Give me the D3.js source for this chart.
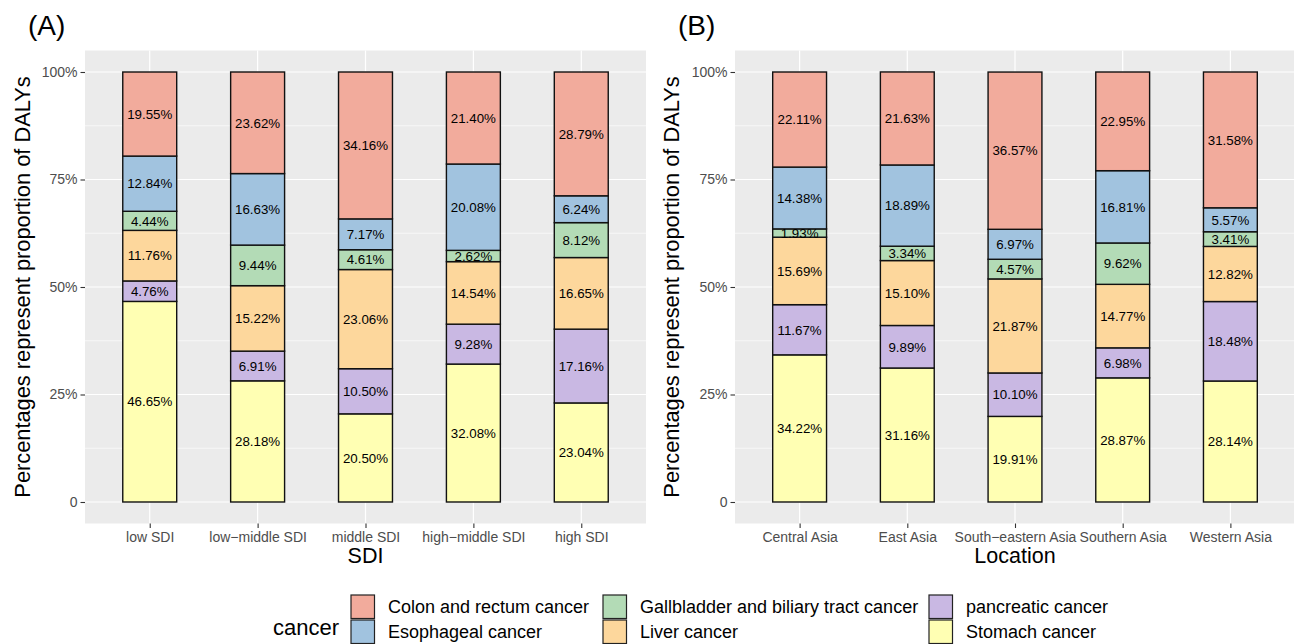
<!DOCTYPE html>
<html>
<head>
<meta charset="utf-8">
<script src="https://cdn.jsdelivr.net/npm/d3@7"></script>
<style>
  html, body { margin: 0; padding: 0; background: #ffffff; }
  svg { display: block; font-family: "Liberation Sans", Arial, sans-serif; }
</style>
</head>
<body>
<svg id="chart" width="1294" height="644"></svg>
<script>
// Cancer types, stacked from the bottom of each bar upwards
const cancers = ["Stomach cancer", "pancreatic cancer", "Liver cancer",
  "Gallbladder and biliary tract cancer", "Esophageal cancer", "Colon and rectum cancer"];
const cancerColors = ["#FFFFB3", "#C9B8E3", "#FDD79C", "#B3DBB6", "#A1C3DF", "#F2AB9C"];

// Legend order (column-wise, two rows)
const legendOrder = ["Colon and rectum cancer", "Esophageal cancer",
  "Gallbladder and biliary tract cancer", "Liver cancer",
  "pancreatic cancer", "Stomach cancer"];

// Panel A: SDI groups
const sdiGroups = ["low SDI", "low\u2212middle SDI", "middle SDI", "high\u2212middle SDI", "high SDI"];
const sdiStomach    = [46.65, 28.18, 20.50, 32.08, 23.04];
const sdiPancreatic = [4.76, 6.91, 10.50, 9.28, 17.16];
const sdiLiver      = [11.76, 15.22, 23.06, 14.54, 16.65];
const sdiGallbladder= [4.44, 9.44, 4.61, 2.62, 8.12];
const sdiEsophageal = [12.84, 16.63, 7.17, 20.08, 6.24];
const sdiColon      = [19.55, 23.62, 34.16, 21.40, 28.79];

// Panel B: Asian regions
const locations = ["Central Asia", "East Asia", "South\u2212eastern Asia", "Southern Asia", "Western Asia"];
const locStomach    = [34.22, 31.16, 19.91, 28.87, 28.14];
const locPancreatic = [11.67, 9.89, 10.10, 6.98, 18.48];
const locLiver      = [15.69, 15.10, 21.87, 14.77, 12.82];
const locGallbladder= [1.93, 3.34, 4.57, 9.62, 3.41];
const locEsophageal = [14.38, 18.89, 6.97, 16.81, 5.57];
const locColon      = [22.11, 21.63, 36.57, 22.95, 31.58];

const yTicks = [0, 0.25, 0.5, 0.75, 1];
const yTickLabels = ["0", "25%", "50%", "75%", "100%"];

const svg = d3.select("#chart");
const color = d3.scaleOrdinal().domain(cancers).range(cancerColors);

function buildRows(groups, series) {
  return groups.map((g, i) => {
    const row = { group: g };
    cancers.forEach((c, k) => { row[c] = series[k][i] / 100; });
    return row;
  });
}

function drawPanel(opts) {
  const { left, right, top, bottom, groups, series, xTitle, tag, tagX, yTitleX } = opts;
  const g = svg.append("g");

  const y = d3.scaleLinear().domain([0, 1]).range([502, 72]);
  const x = d3.scalePoint().domain(groups).range([left, right]).padding(0.6);
  const barW = x.step() * 0.5;

  // panel background
  g.append("rect").attr("x", left).attr("y", top)
    .attr("width", right - left).attr("height", bottom - top)
    .attr("fill", "#EBEBEB");

  // minor grid
  const minor = [0.125, 0.375, 0.625, 0.875];
  g.selectAll(".minor").data(minor).join("line")
    .attr("x1", left).attr("x2", right)
    .attr("y1", d => y(d)).attr("y2", d => y(d))
    .attr("stroke", "#ffffff").attr("stroke-width", 0.6);
  // major grid
  g.selectAll(".majorY").data(yTicks).join("line")
    .attr("x1", left).attr("x2", right)
    .attr("y1", d => y(d)).attr("y2", d => y(d))
    .attr("stroke", "#ffffff").attr("stroke-width", 1.2);
  g.selectAll(".majorX").data(groups).join("line")
    .attr("x1", d => x(d)).attr("x2", d => x(d))
    .attr("y1", top).attr("y2", bottom)
    .attr("stroke", "#ffffff").attr("stroke-width", 1.2);

  // stacked bars
  const rows = buildRows(groups, series);
  const stacked = d3.stack().keys(cancers)(rows);
  const layers = g.selectAll(".layer").data(stacked).join("g")
    .attr("fill", d => color(d.key));
  layers.selectAll("rect").data(d => d).join("rect")
    .attr("x", d => x(d.data.group) - barW / 2)
    .attr("width", barW)
    .attr("y", d => y(d[1]))
    .attr("height", d => y(d[0]) - y(d[1]))
    .attr("stroke", "#111111").attr("stroke-width", 1.4);

  // percentage labels
  stacked.forEach(layer => {
    g.selectAll(null).data(layer).join("text")
      .attr("x", d => x(d.data.group))
      .attr("y", d => y((d[0] + d[1]) / 2))
      .attr("dy", "0.36em")
      .attr("text-anchor", "middle")
      .attr("font-size", 13.3)
      .attr("fill", "#000000")
      .text(d => (d.data[layer.key] * 100).toFixed(2) + "%");
  });

  // y axis
  const yAxis = d3.axisLeft(y).tickValues(yTicks)
    .tickFormat((d, i) => yTickLabels[i]).tickSize(4.5).tickPadding(3);
  const ya = g.append("g").attr("transform", `translate(${left},0)`).call(yAxis);
  ya.select(".domain").remove();
  ya.selectAll("line").attr("stroke", "#333333").attr("stroke-width", 1.1);
  ya.selectAll("text").attr("fill", "#4D4D4D").attr("font-size", 14)
    .attr("font-family", "Liberation Sans, Arial, sans-serif");

  // x axis
  const xAxis = d3.axisBottom(x).tickSize(4.5).tickPadding(4);
  const xa = g.append("g").attr("transform", `translate(0,${bottom})`).call(xAxis);
  xa.select(".domain").remove();
  xa.selectAll("line").attr("stroke", "#333333").attr("stroke-width", 1.1);
  xa.selectAll("text").attr("fill", "#4D4D4D").attr("font-size", 14)
    .attr("font-family", "Liberation Sans, Arial, sans-serif");

  // axis titles
  g.append("text").attr("x", (left + right) / 2).attr("y", 563)
    .attr("text-anchor", "middle").attr("font-size", 21.5).attr("fill", "#000")
    .text(xTitle);
  g.append("text")
    .attr("transform", `translate(${yTitleX},${(top + bottom) / 2}) rotate(-90)`)
    .attr("text-anchor", "middle").attr("font-size", 21.8).attr("fill", "#000")
    .text("Percentages represent proportion of DALYs");

  // panel tag
  g.append("text").attr("x", tagX).attr("y", 35)
    .attr("font-size", 28).attr("fill", "#000").text(tag);
}

drawPanel({
  left: 85, right: 646, top: 50.5, bottom: 523.5,
  groups: sdiGroups,
  series: [sdiStomach, sdiPancreatic, sdiLiver, sdiGallbladder, sdiEsophageal, sdiColon],
  xTitle: "SDI", tag: "(A)", tagX: 28, yTitleX: 30
});
drawPanel({
  left: 735, right: 1295, top: 50.5, bottom: 523.5,
  groups: locations,
  series: [locStomach, locPancreatic, locLiver, locGallbladder, locEsophageal, locColon],
  xTitle: "Location", tag: "(B)", tagX: 678, yTitleX: 679
});

// legend
const legend = svg.append("g");
legend.append("text").attr("x", 273).attr("y", 635)
  .attr("font-size", 22).attr("fill", "#000").text("cancer");
const colX = [351, 603, 929];
const rowY = [595, 620];
const keySize = 23.5;
legendOrder.forEach((name, i) => {
  const col = Math.floor(i / 2), row = i % 2;
  legend.append("rect")
    .attr("x", colX[col]).attr("y", rowY[row])
    .attr("width", keySize).attr("height", keySize)
    .attr("fill", color(name)).attr("stroke", "#222222").attr("stroke-width", 1.2);
  legend.append("text")
    .attr("x", colX[col] + keySize + 13.5)
    .attr("y", rowY[row] + keySize / 2)
    .attr("dy", "0.36em")
    .attr("font-size", 18).attr("fill", "#000").text(name);
});
</script>
</body>
</html>
